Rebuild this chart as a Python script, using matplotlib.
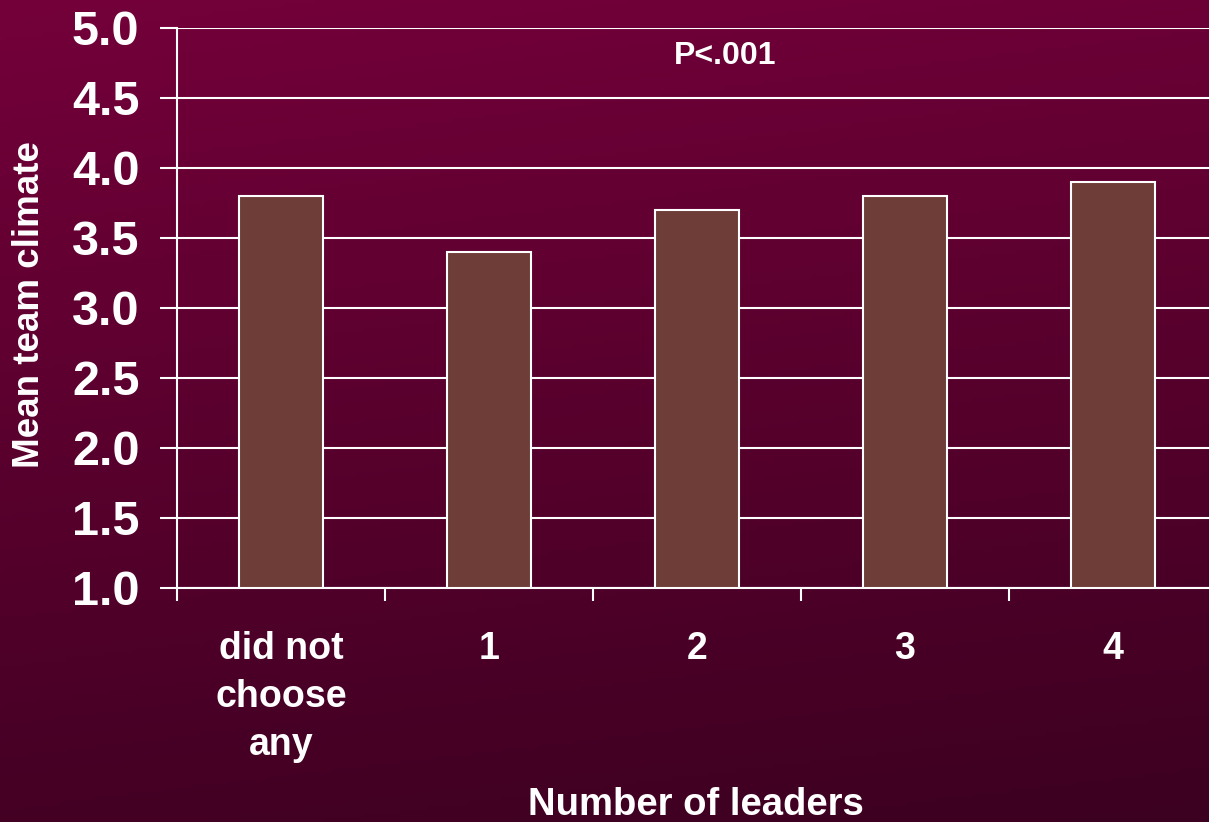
import numpy as np
import matplotlib.pyplot as plt
from matplotlib.colors import LinearSegmentedColormap

# Mean team climate by number of leaders chosen
categories = ['did not\nchoose\nany', '1', '2', '3', '4']
climate = [3.8, 3.4, 3.7, 3.8, 3.9]
yticks = [1.0, 1.5, 2.0, 2.5, 3.0, 3.5, 4.0, 4.5, 5.0]

plt.rcParams['font.family'] = ['Liberation Sans', 'DejaVu Sans']
plt.rcParams['font.weight'] = 'bold'

fig = plt.figure(figsize=(12.09, 8.22), dpi=100)

# gradient backdrop, maroon fading darker toward the bottom
bg = fig.add_axes([0, 0, 1, 1], zorder=-1)
cmap = LinearSegmentedColormap.from_list('maroon', ['#74003a', '#3c0020'])
yy, xx = np.mgrid[0:1:200j, 0:1:200j]
bg.imshow(0.85 * yy + 0.15 * xx, cmap=cmap, aspect='auto', extent=[0, 1, 1, 0])
bg.axis('off')

ax = fig.add_axes([0.1464, 0.2847, 0.8602, 0.6813])
ax.patch.set_alpha(0)

x = np.arange(len(categories))
ax.bar(x, [v - 1.0 for v in climate], bottom=1.0, width=0.40,
       color='#6e3d38', edgecolor='white', linewidth=1.5, zorder=3)

ax.set_xlim(-0.5, len(categories) - 0.5)
ax.set_ylim(1.0, 5.0)
ax.set_yticks(yticks)
ax.set_yticklabels([f'{t:.1f}' for t in yticks], fontsize=35, color='white',
                   fontweight='bold')
ax.yaxis.grid(True, color='white', linewidth=1.5, zorder=0)
ax.tick_params(axis='y', length=12, width=1.5, color='white', pad=15)

ax.set_xticks(x)
ax.set_xticklabels(categories, fontsize=27, color='white', fontweight='bold',
                   linespacing=1.42, va='top')
ax.set_xticks(np.arange(-0.5, len(categories), 1.0), minor=True)
ax.tick_params(axis='x', which='major', length=0, pad=31)
ax.tick_params(axis='x', which='minor', length=9.5, width=1.5, color='white',
               direction='out')

for side in ['top', 'right']:
    ax.spines[side].set_visible(False)
for side in ['left', 'bottom']:
    ax.spines[side].set_color('white')
    ax.spines[side].set_linewidth(1.5)

fig.text(0.024, 0.629, 'Mean team climate', fontsize=26.5, color='white',
         fontweight='bold', ha='center', va='center', rotation=90)
fig.text(0.576, 0.0207, 'Number of leaders', fontsize=27.5, color='white',
         fontweight='bold', ha='center', va='center')
ax.text(2.135, 4.8, 'P<.001', fontsize=23, color='white', fontweight='bold',
        ha='center', va='center')

fig.savefig('out.png', dpi=100)
